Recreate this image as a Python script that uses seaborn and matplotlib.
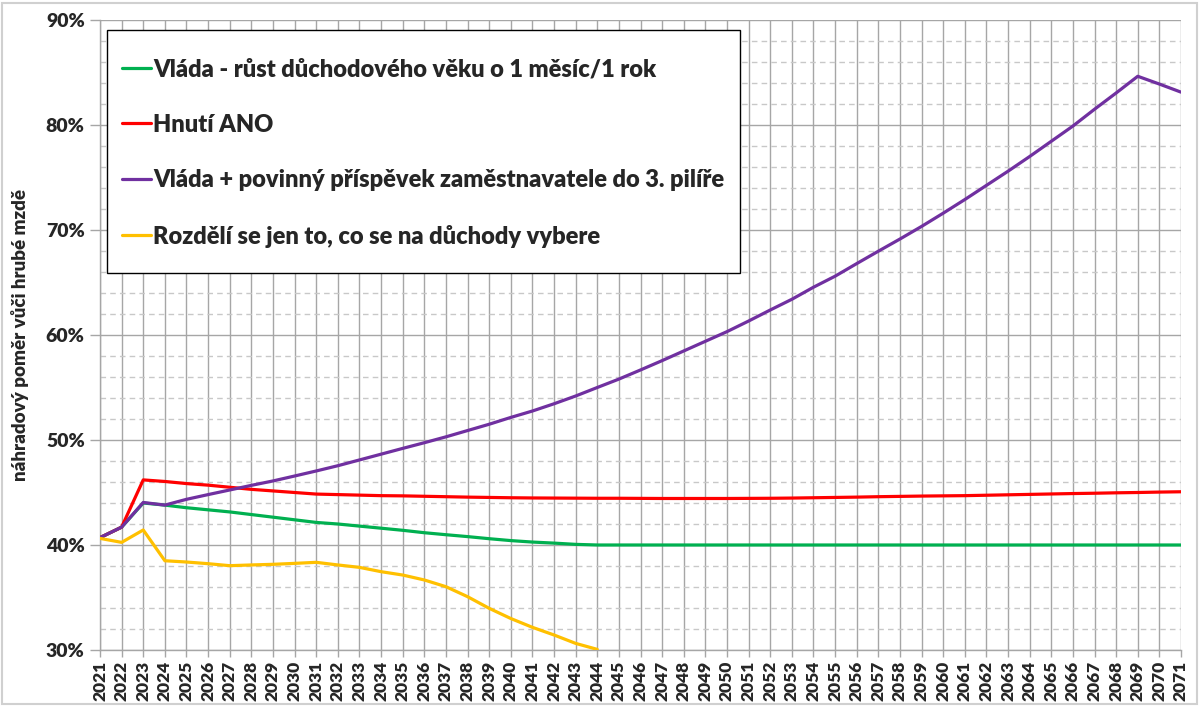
import matplotlib
matplotlib.use("Agg")
import matplotlib.pyplot as plt
import matplotlib.ticker as mticker
from matplotlib.patches import Rectangle
import seaborn as sns
import pandas as pd

years = list(range(2021, 2072))

vlada = [40.7, 41.7, 44.0, 43.8, 43.55, 43.35, 43.15, 42.9, 42.65, 42.4,
         42.15, 42.0, 41.8, 41.6, 41.4, 41.17, 40.98, 40.8, 40.6, 40.42,
         40.28, 40.18, 40.06, 40.0, 40.0, 40.0, 40.0, 40.0, 40.0, 40.0,
         40.0, 40.0, 40.0, 40.0, 40.0, 40.0, 40.0, 40.0, 40.0, 40.0,
         40.0, 40.0, 40.0, 40.0, 40.0, 40.0, 40.0, 40.0, 40.0, 40.0,
         40.0]

ano = [40.7, 41.7, 46.2, 46.05, 45.85, 45.7, 45.5, 45.3, 45.15, 45.0,
       44.85, 44.8, 44.75, 44.7, 44.68, 44.64, 44.6, 44.56, 44.53, 44.5,
       44.48, 44.47, 44.46, 44.45, 44.45, 44.44, 44.43, 44.43, 44.43, 44.43,
       44.44, 44.45, 44.47, 44.5, 44.53, 44.56, 44.6, 44.63, 44.66, 44.68,
       44.7, 44.74, 44.78, 44.82, 44.86, 44.9, 44.93, 44.97, 45.0, 45.04,
       45.07]

vlada_pilir = [40.7, 41.7, 44.05, 43.8, 44.35, 44.8, 45.24, 45.68, 46.1, 46.57,
               47.05, 47.55, 48.1, 48.65, 49.2, 49.74, 50.3, 50.9, 51.5, 52.15,
               52.76, 53.45, 54.19, 55.0, 55.8, 56.67, 57.56, 58.48, 59.4, 60.32,
               61.33, 62.38, 63.4, 64.55, 65.6, 66.8, 67.98, 69.14, 70.34, 71.6,
               72.9, 74.25, 75.6, 77.0, 78.45, 79.9, 81.5, 83.05, 84.64, 83.9,
               83.13]

rozdeli_years = list(range(2021, 2045))
rozdeli = [40.63, 40.25, 41.43, 38.5, 38.38, 38.22, 38.03, 38.1, 38.16, 38.25,
           38.35, 38.1, 37.87, 37.46, 37.14, 36.67, 36.03, 35.08, 33.97, 33.0,
           32.16, 31.43, 30.63, 30.06]

labels = ["Vláda - růst důchodového věku o 1 měsíc/1 rok",
          "Hnutí ANO",
          "Vláda + povinný příspěvek zaměstnavatele do 3. pilíře",
          "Rozdělí se jen to, co se na důchody vybere"]
colors = ["#00b050", "#ff0000", "#7030a0", "#ffc000"]
ylabel = "náhradový poměr vůči hrubé mzdě"

sns.set_style("white")
plt.rcParams['font.family'] = ['Lato', 'DejaVu Sans']

fig = plt.figure(figsize=(12, 7.06), dpi=100)
ax = fig.add_axes([100/1200, 1-650/706, 1081/1200, 630/706])

series = [(years, vlada), (years, ano), (years, vlada_pilir), (rozdeli_years, rozdeli)]
for (xs, ys), lab, col in zip(series, labels, colors):
    sns.lineplot(x=xs, y=ys, ax=ax, color=col, linewidth=2.3, label=lab, zorder=3)

ax.set_xlim(2021, 2071)
ax.set_ylim(30, 90)
ax.set_xticks(years)
ax.set_xticklabels([str(y) for y in years], rotation=90, fontweight='heavy', fontsize=12.5)
ax.set_yticks(list(range(30, 91, 10)))
ax.set_yticks(list(range(30, 91, 2)), minor=True)
ax.yaxis.set_major_formatter(mticker.FuncFormatter(lambda v, p: f"{int(round(v))}%"))
for t in ax.get_yticklabels():
    t.set_fontweight('heavy')
    t.set_fontsize(14)

ax.grid(which='major', axis='both', color='#a6a6a6', linewidth=1.0, linestyle='-', zorder=0)
ax.grid(which='minor', axis='y', color='#c8c8c8', linewidth=1.0, linestyle=(0, (4, 3)), zorder=0)
ax.tick_params(axis='y', which='major', length=7, color='#a6a6a6', width=1, left=True, pad=4)
ax.tick_params(axis='y', which='minor', length=0)
ax.tick_params(axis='x', which='major', length=5, color='#a6a6a6', width=1, bottom=True, pad=3)
for side in ['top', 'right']:
    ax.spines[side].set_visible(False)
for side in ['left', 'bottom']:
    ax.spines[side].set_color('#a6a6a6')
    ax.spines[side].set_linewidth(1.0)

ax.set_xlabel("")
ax.set_ylabel(ylabel, fontweight='heavy', fontsize=13.5, labelpad=12)

# legend box
box = Rectangle((7/1081, (650-273)/630), 633/1081, 243/630, transform=ax.transAxes,
                facecolor='white', edgecolor='black', linewidth=1.0, zorder=4)
ax.add_patch(box)

leg = ax.legend(loc='upper left', bbox_to_anchor=(22/1081, (650-58)/630), borderaxespad=0,
                prop={'weight': 'heavy', 'size': 17},
                frameon=False, handlelength=1.22, handletextpad=0.1,
                labelspacing=1.42, borderpad=0.0)
leg.set_zorder(5)

fig.patches.append(Rectangle((2/1200, 2/706), 1195/1200, 701/706, transform=fig.transFigure,
                             fill=False, edgecolor='#d0d0d0', linewidth=1.5))

fig.savefig("out.png", dpi=100)
